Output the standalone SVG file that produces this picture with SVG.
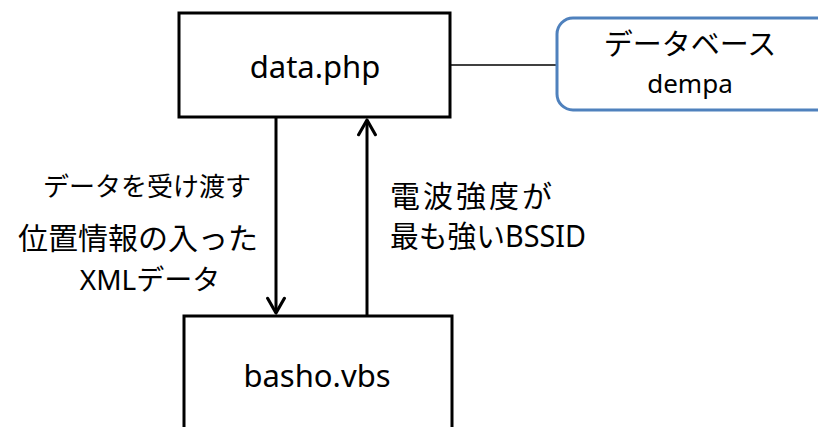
<svg xmlns="http://www.w3.org/2000/svg" width="818" height="427" viewBox="0 0 818 427">
  <defs>
    <style>
      .box { fill: #ffffff; stroke: #000000; stroke-width: 3; }
      .db { fill: #ffffff; stroke: #4f81bd; stroke-width: 3; }
      .t { font-family: "Noto Sans", "Noto Sans CJK JP", sans-serif; fill: #000000; }
      .line { stroke: #000000; stroke-width: 3; fill: none; }
      .thin { stroke: #000000; stroke-width: 1.5; fill: none; }
    </style>
    <marker id="arr" viewBox="0 0 20 20" refX="18" refY="10" markerWidth="7" markerHeight="7" markerUnits="strokeWidth" orient="auto">
      <path d="M4,2 L18,10 L4,18" fill="none" stroke="#000000" stroke-width="3" stroke-linecap="round" stroke-linejoin="round"/>
    </marker>
  </defs>
  <rect width="818" height="427" fill="#ffffff"/>
  <g id="connectors">
    <line class="thin" x1="450" y1="65" x2="557" y2="65"/>
    <line class="line" x1="276" y1="118" x2="276" y2="313" marker-end="url(#arr)"/>
    <line class="line" x1="367" y1="316" x2="367" y2="120" marker-end="url(#arr)"/>
  </g>
  <g id="data-php">
    <rect class="box" x="179" y="13" width="271" height="104"/>
    <text class="t" x="315" y="78" font-size="31" text-anchor="middle">data.php</text>
  </g>
  <g id="database">
    <rect class="db" x="557" y="18" width="290" height="92" rx="16"/>
    <text class="t" x="690" y="55" font-size="29" text-anchor="middle">データベース</text>
    <text class="t" x="690" y="93" font-size="26" text-anchor="middle">dempa</text>
  </g>
  <g id="basho-vbs">
    <rect class="box" x="184" y="316" width="268" height="130"/>
    <text class="t" x="317" y="387" font-size="31" text-anchor="middle">basho.vbs</text>
  </g>
  <g id="labels">
    <text class="t" x="147" y="196" font-size="26" text-anchor="middle">データを受け渡す</text>
    <text class="t" x="138" y="249" font-size="30" text-anchor="middle">位置情報の入った</text>
    <text class="t" x="150" y="290" font-size="28" text-anchor="middle">XMLデータ</text>
    <text class="t" x="390" y="207" font-size="30" textLength="162" lengthAdjust="spacing">電波強度が</text>
    <text class="t" x="390" y="247" font-size="30" textLength="196" lengthAdjust="spacingAndGlyphs">最も強いBSSID</text>
  </g>
</svg>
